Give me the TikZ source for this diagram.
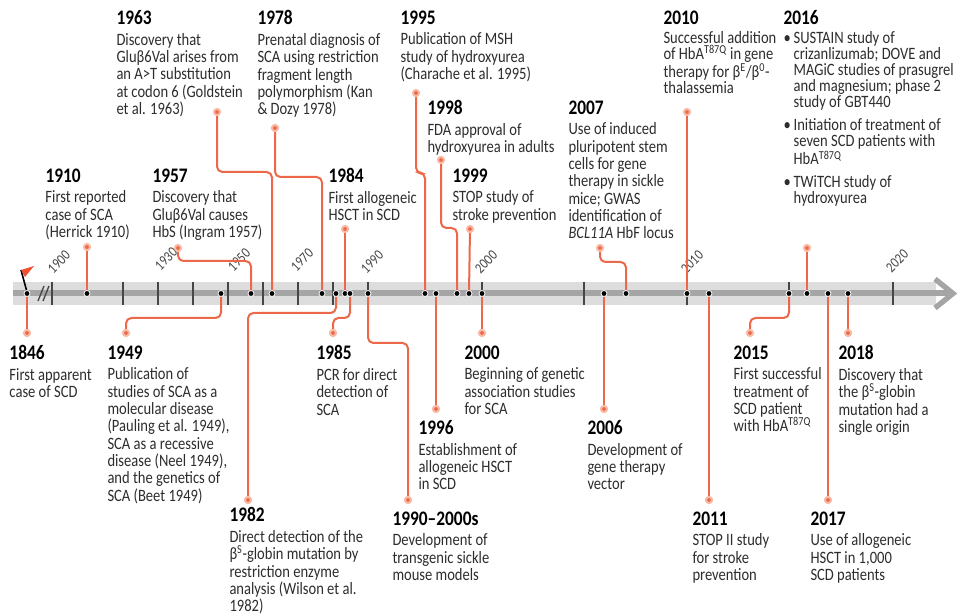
\documentclass[tikz,border=0pt]{standalone}
\usepackage{fontspec}
\setmainfont[FakeStretch=0.84]{Carlito}

\definecolor{linkred}{RGB}{236,104,72}
\definecolor{pinhalo}{RGB}{248,185,165}
\definecolor{bandgray}{RGB}{221,221,221}
\definecolor{axisgray}{RGB}{165,165,165}
\definecolor{tickgray}{RGB}{70,70,70}
\definecolor{flagred}{RGB}{238,80,50}
\definecolor{bodygray}{RGB}{45,45,45}

\newcommand{\evbody}{\fontsize{13}{13}\selectfont}
\newcommand{\evbodyt}{\fontsize{13}{12}\selectfont}
\newcommand{\evyear}{\fontsize{15.5}{15.5}\bfseries\selectfont}
\newcommand{\evt}[2]{{\color{black}\evyear #1}\\[2.5pt]#2}
\newcommand{\bul}{\textbullet\,}
\newcommand{\nobul}{\hphantom{\textbullet\,}}

\tikzset{every picture/.style={line width=0.75pt},
	link/.style={draw=linkred, line width=1.5pt, rounded corners=4pt},
	pin/.style={circle, fill=linkred, draw=pinhalo, line width=1.4pt, inner sep=0pt, minimum size=4.5pt},
	evdot/.style={circle, fill=black, draw=white, line width=0.6pt, inner sep=0pt, minimum size=4.5pt},
	evtext/.style={anchor=north west, inner sep=0pt, align=left, font=\evbody, text=bodygray},
	decade/.style={rotate=45, inner sep=0pt, font=\fontsize{11}{11}\selectfont, text=tickgray}}

\begin{document}
\begin{tikzpicture}[x=0.75pt,y=0.75pt,yscale=-1,xscale=1]
	\useasboundingbox (0,0) rectangle (957,616);
	\fill[white] (0,0) rectangle (957,616);
	
	%Shape: time bar
	\fill[bandgray] (13,282) rectangle (936,305);
	\draw[axisgray, line width=4.5pt] (13,293.5) -- (950,293.5);
	\draw[axisgray, line width=4pt] (935,279) -- (953,293.5) -- (935,308);
	%Straight Lines: ticks
	\foreach \x in {52,123,158,193,228,263,298,333,368,482,584,687,789,893}
		\draw[tickgray, line width=1pt] (\x,282) -- (\x,305);
	%Straight Lines: break
	\draw[tickgray, line width=1pt] (38,301) -- (44,286) (43,301) -- (49,286);
	%Shape: flag
	\draw[black, line width=1.2pt] (21,270) -- (27,292);
	\fill[flagred] (21,270) -- (34,266) -- (25,277) -- cycle;
	
	% decade labels
	\foreach \d/\x/\y in {1900/59/262, 1930/166/259, 1950/239/260, 1970/302/260, 1990/372/262, 2000/486/262, 2010/692/262, 2020/897/261}
		\node[decade] (dec\d) at (\x,\y) {\d};
	
	% points on the bar
	\foreach \ev/\x in {1846/27, 1910/87, 1949/221, 1957/251, 1963/272, 1978/322, 1982/336, 1984/345, 1985/350, 1990/368, 1995/425, 1996/436, 1998/457, 1999/469, 2000/482, 2006/604, 2007/626, 2010/687, 2011/709, 2015/789, 2016/807, 2017/828, 2018/848}
		\coordinate (a\ev) at (\x,293.5);
	
	% pins at the texts
	\foreach \ev/\x/\y in {1963/217/112, 1978/275/128, 1910/87/247, 1957/178/248, 1984/345/229, 1995/416/93, 1998/441/160, 1999/470/229, 2007/600/248, 2010/687/112, 2016/807/248, 1846/27/333, 1949/126/333, 1982/248/500, 1985/333/333, 1990/408/500, 1996/436/409, 2000/482/333, 2006/604/409, 2011/709/500, 2015/750/333, 2017/828/500, 2018/848/333}
		\node[pin] (p\ev) at (\x,\y) {};
	
	%Straight Lines
	\foreach \ev in {1910,1984,1999,2010,2016,1846,1996,2000,2006,2011,2017,2018}
		\draw[link] (p\ev) -- (a\ev);
	%Elbow Lines above the bar
	\draw[link] (p1963) -- ++(0,60) -| (a1963);
	\draw[link] (p1978) -- ++(0,49) -| (a1978);
	\draw[link] (p1957) -- ++(0,13) -| (a1957);
	\draw[link] (p1995) -- ++(0,80) -| (a1995);
	\draw[link] (p1998) -- ++(0,68) -| (a1998);
	\draw[link] (p2007) -- ++(0,14) -| (a2007);
	%Elbow Lines below the bar
	\draw[link] (p1949) -- ++(0,-15) -| (a1949);
	\draw[link] (p1982) -- ++(0,-187) -| (a1982);
	\draw[link] (p1985) -- ++(0,-15) -| (a1985);
	\draw[link] (p1990) -- ++(0,-157) -| (a1990);
	\draw[link] (p2015) -- ++(0,-15) -| (a2015);
	
	\foreach \ev in {1846,1910,1949,1957,1963,1978,1982,1984,1985,1990,1995,1996,1998,1999,2000,2006,2007,2010,2011,2015,2016,2017,2018}
		\node[evdot] (d\ev) at (a\ev) {};
	\foreach \ev in {1963,1978,1910,1957,1984,1995,1998,1999,2007,2010,2016,1846,1949,1982,1985,1990,1996,2000,2006,2011,2015,2017,2018}
		\node[pin] at (p\ev) {};
	
	% Text Node
	\node[evtext] (t1963) at (116,10) {\evt{1963}{Discovery that\\Gluβ6Val arises from\\an A>T substitution\\at codon 6 (Goldstein\\et al. 1963)}};
	% Text Node
	\node[evtext] (t1978) at (257,10) {\evt{1978}{Prenatal diagnosis of\\SCA using restriction\\fragment length\\polymorphism (Kan\\\& Dozy 1978)}};
	% Text Node
	\node[evtext] (t1995) at (400,10) {\evt{1995}{Publication of MSH\\study of hydroxyurea\\(Charache et al. 1995)}};
	% Text Node
	\node[evtext, font=\evbodyt] (t2010) at (663,10) {\evt{2010}{Successful addition\\of HbA\textsuperscript{T87Q} in gene\\therapy for β\textsuperscript{E}/β\textsuperscript{0}-\\thalassemia}};
	% Text Node
	\node[evtext, font=\evbodyt] (t2016) at (783,10) {\evt{2016}{\bul SUSTAIN study of\\\nobul crizanlizumab; DOVE and\\\nobul MAGiC studies of prasugrel\\\nobul and magnesium; phase 2\\\nobul study of GBT440\\[5pt]\bul Initiation of treatment of\\\nobul seven SCD patients with\\\nobul HbA\textsuperscript{T87Q}\\[5pt]\bul TWiTCH study of\\\nobul hydroxyurea}};
	% Text Node
	\node[evtext] (t1998) at (427,100) {\evt{1998}{FDA approval of\\hydroxyurea in adults}};
	% Text Node
	\node[evtext] (t2007) at (568,100) {\evt{2007}{Use of induced\\pluripotent stem\\cells for gene\\therapy in sickle\\mice; GWAS\\identification of\\\textit{BCL11A} HbF locus}};
	% Text Node
	\node[evtext] (t1910) at (45,168) {\evt{1910}{First reported\\case of SCA\\(Herrick 1910)}};
	% Text Node
	\node[evtext] (t1957) at (152,168) {\evt{1957}{Discovery that\\Gluβ6Val causes\\HbS (Ingram 1957)}};
	% Text Node
	\node[evtext] (t1984) at (328,168) {\evt{1984}{First allogeneic\\HSCT in SCD}};
	% Text Node
	\node[evtext] (t1999) at (452,168) {\evt{1999}{STOP study of\\stroke prevention}};
	
	% Text Node
	\node[evtext] (t1846) at (9,345) {\evt{1846}{First apparent\\case of SCD}};
	% Text Node
	\node[evtext] (t1949) at (107,345) {\evt{1949}{Publication of\\studies of SCA as a\\molecular disease\\(Pauling et al. 1949),\\SCA as a recessive\\disease (Neel 1949),\\and the genetics of\\SCA (Beet 1949)}};
	% Text Node
	\node[evtext] (t1985) at (316,345) {\evt{1985}{PCR for direct\\detection of\\SCA}};
	% Text Node
	\node[evtext] (t2000) at (464,345) {\evt{2000}{Beginning of genetic\\association studies\\for SCA}};
	% Text Node
	\node[evtext] (t2015) at (733,345) {\evt{2015}{First successful\\treatment of\\SCD patient\\with HbA\textsuperscript{T87Q}}};
	% Text Node
	\node[evtext] (t2018) at (838,345) {\evt{2018}{Discovery that\\the β\textsuperscript{S}-globin\\mutation had a\\single origin}};
	% Text Node
	\node[evtext] (t1996) at (418,420) {\evt{1996}{Establishment of\\allogeneic HSCT\\in SCD}};
	% Text Node
	\node[evtext] (t2006) at (587,420) {\evt{2006}{Development of\\gene therapy\\vector}};
	% Text Node
	\node[evtext] (t1982) at (229,507) {\evt{1982}{Direct detection of the\\β\textsuperscript{S}-globin mutation by\\restriction enzyme\\analysis (Wilson et al.\\1982)}};
	% Text Node
	\node[evtext] (t1990) at (392,511) {\evt{1990--2000s}{Development of\\transgenic sickle\\mouse models}};
	% Text Node
	\node[evtext] (t2011) at (692,511) {\evt{2011}{STOP II study\\for stroke\\prevention}};
	% Text Node
	\node[evtext] (t2017) at (810,511) {\evt{2017}{Use of allogeneic\\HSCT in 1,000\\SCD patients}};
\end{tikzpicture}
\end{document}
